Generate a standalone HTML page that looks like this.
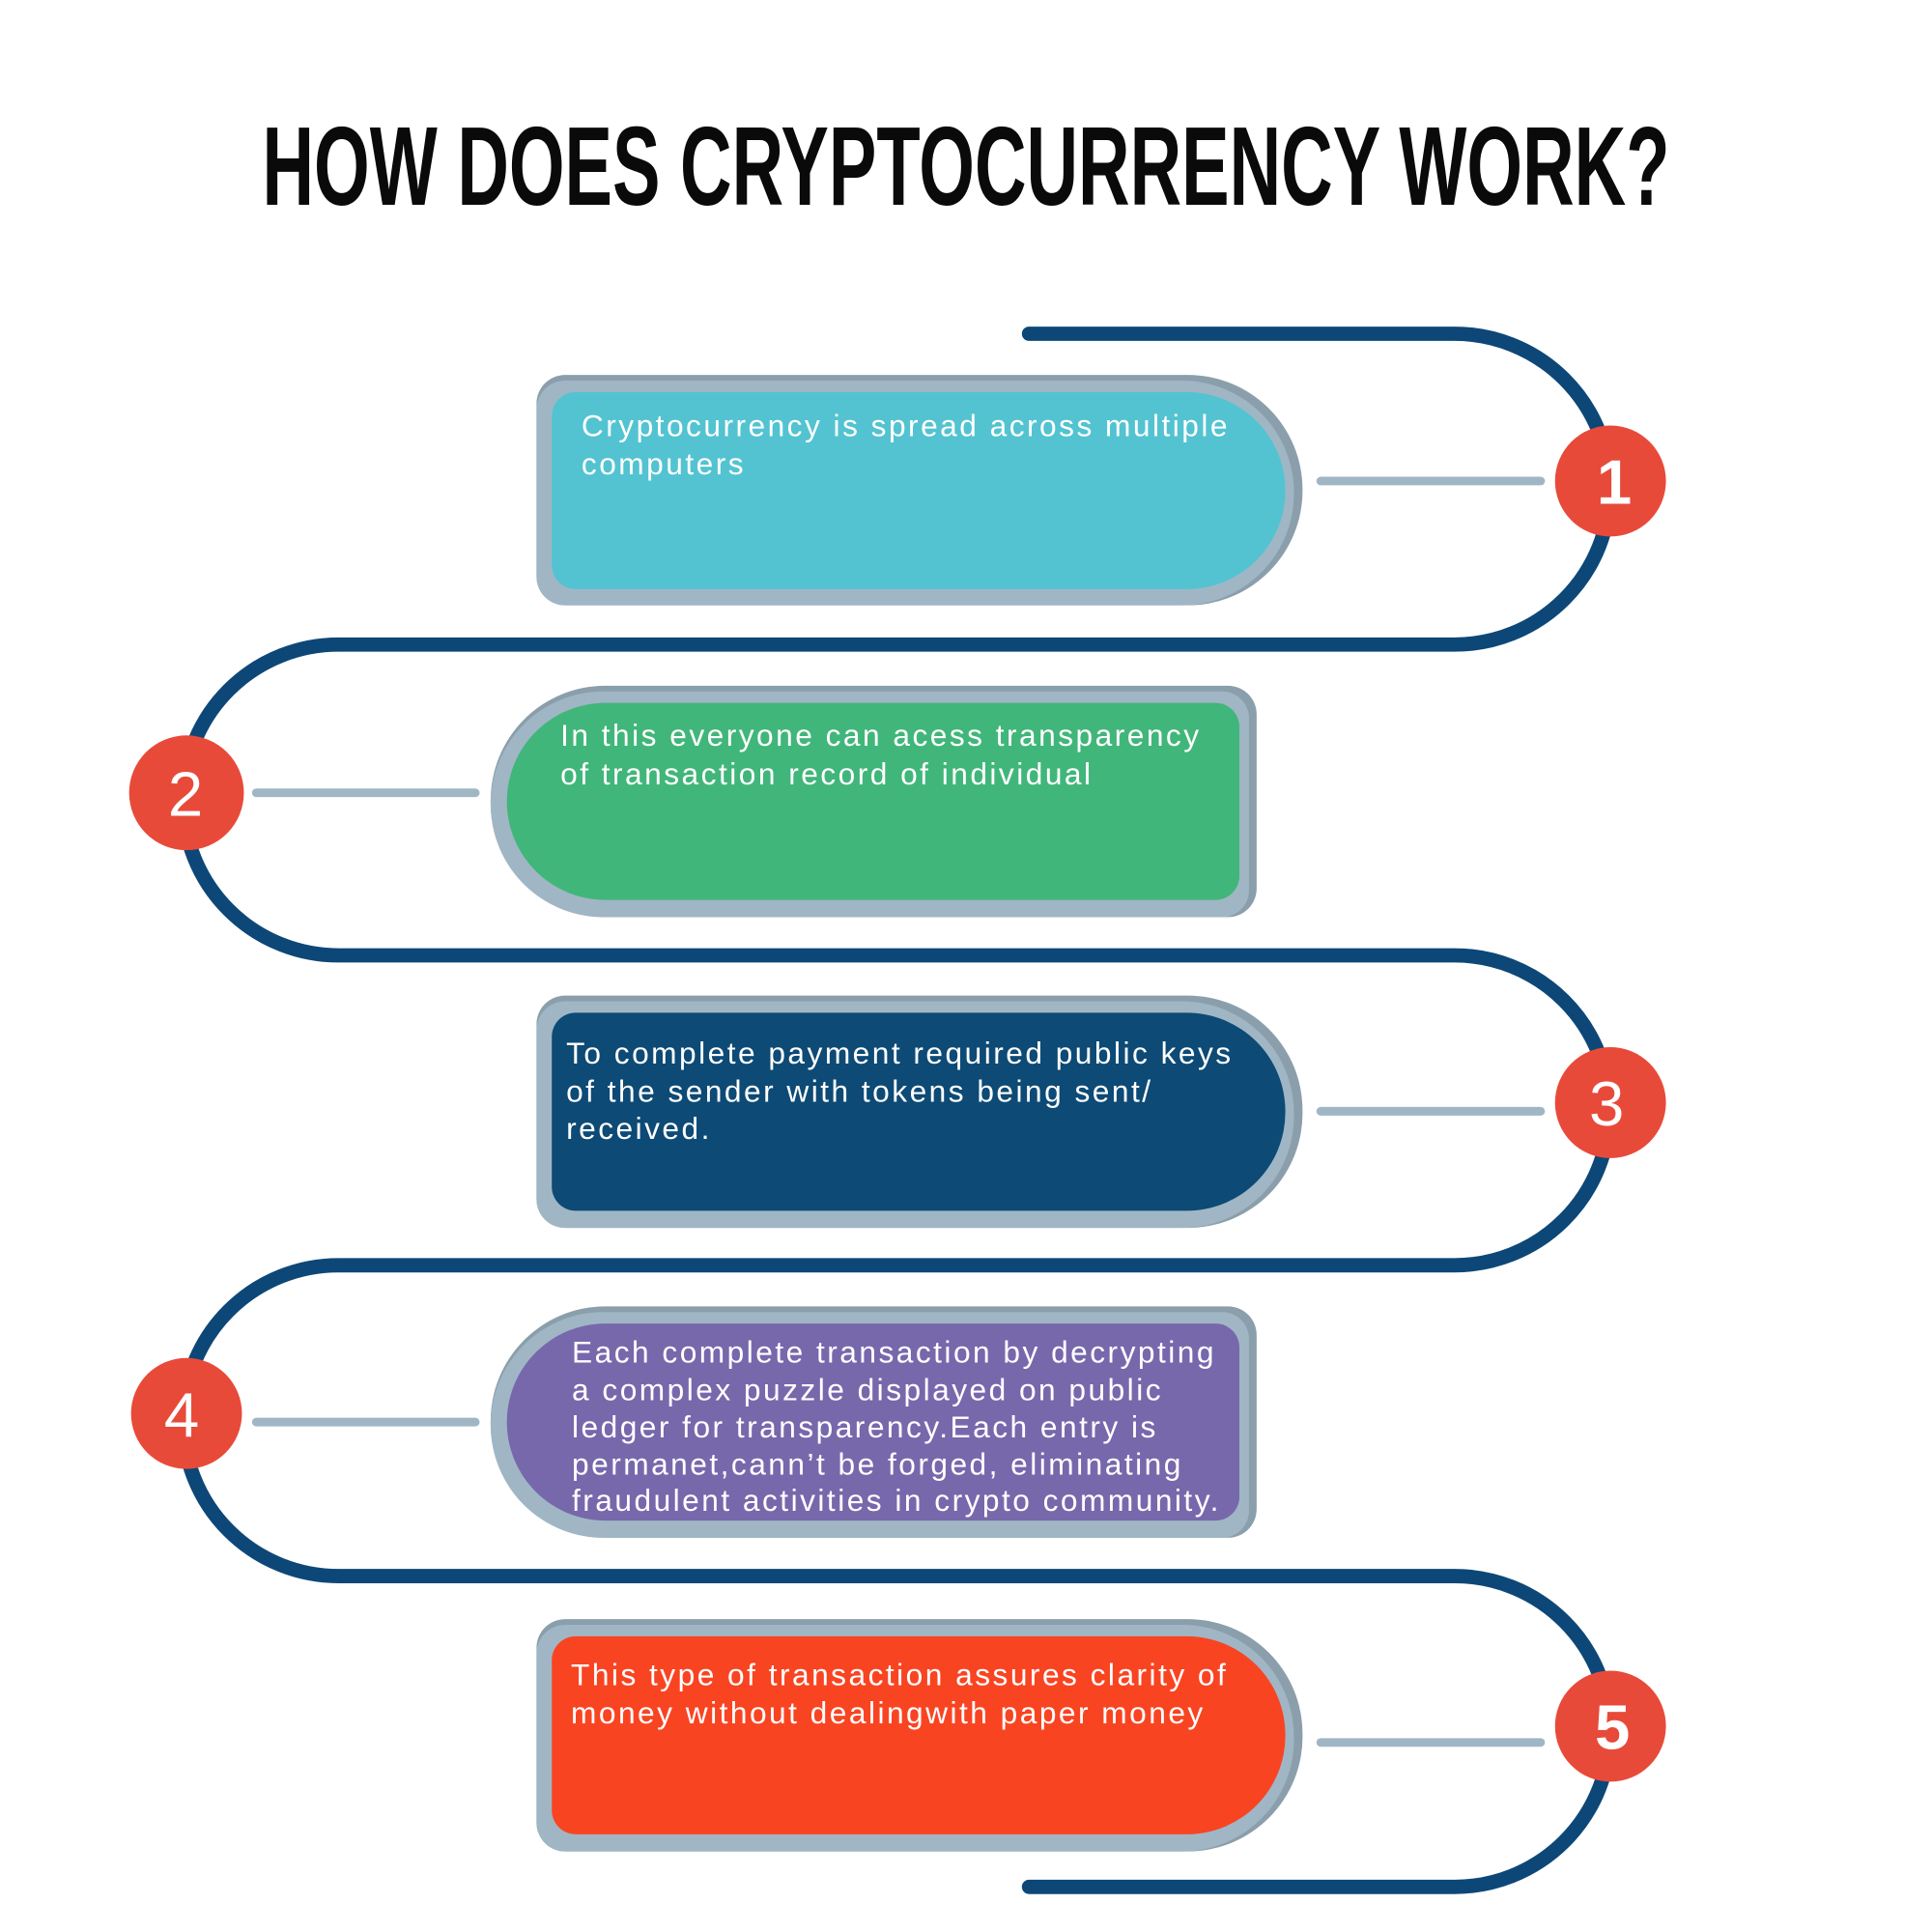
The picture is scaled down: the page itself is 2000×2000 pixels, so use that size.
<!DOCTYPE html>
<html><head><meta charset="utf-8"><style>
html,body{margin:0;padding:0;background:#fff;}
svg{display:block;}
.t{font-family:"Liberation Sans",sans-serif;fill:#fff;font-size:32px;letter-spacing:2.5px;}
.n{font-family:"Liberation Sans",sans-serif;fill:#fff;font-size:66px;text-anchor:middle;}
</style></head><body>
<svg width="2000" height="2000" viewBox="0 0 2000 2000">
<text x="1000" y="212" text-anchor="middle" textLength="1457" lengthAdjust="spacingAndGlyphs" font-family="Liberation Sans, sans-serif" font-weight="bold" font-size="116" fill="#0a0a0a">HOW DOES CRYPTOCURRENCY WORK?</text>
<g transform="scale(0.99)">
<path fill="none" stroke="#0d4777" stroke-width="15" stroke-linecap="round"
 d="M1076,349 H1521 A162,162 0 0 1 1521,674 H354 A162,162 0 0 0 354,999 H1521 A162,162 0 0 1 1521,1323 H354 A162,162 0 0 0 354,1648 H1521 A162,162 0 0 1 1521,1973 H1076"/>
<g stroke="#a0b6c5" stroke-width="9" stroke-linecap="round">
<line x1="1381" y1="503" x2="1611" y2="503"/>
<line x1="268" y1="829" x2="497" y2="829"/>
<line x1="1381" y1="1162" x2="1611" y2="1162"/>
<line x1="268" y1="1487" x2="497" y2="1487"/>
<line x1="1381" y1="1822" x2="1611" y2="1822"/>
</g>
<g>
<path fill="#8a9fab" d="M591,392 H1242 A120,120 0 0 1 1362,512 A120,120 0 0 1 1242,633 H591 A30,30 0 0 1 561,603 V422 A30,30 0 0 1 591,392Z"/>
<path fill="#a0b6c5" d="M591,398 H1236 A117,117 0 0 1 1353,515 A117,117 0 0 1 1236,633 H591 A30,30 0 0 1 561,603 V428 A30,30 0 0 1 591,398Z"/>
<path fill="#53c3d1" d="M602,410 H1241 A103,103 0 0 1 1344,513 A103,103 0 0 1 1241,616 H602 A25,25 0 0 1 577,591 V435 A25,25 0 0 1 602,410Z"/>
<text class="t" x="608" y="456">Cryptocurrency is spread across multiple</text>
<text class="t" x="608" y="496">computers</text>
</g>
<g>
<path fill="#8a9fab" d="M633,717 H1284 A30,30 0 0 1 1314,747 V929 A30,30 0 0 1 1284,959 H633 A120,120 0 0 1 513,838 A120,120 0 0 1 633,717Z"/>
<path fill="#a0b6c5" d="M633,723 H1278 A28,28 0 0 1 1306,751 V931 A28,28 0 0 1 1278,959 H633 A118,118 0 0 1 513,841 A118,118 0 0 1 633,723Z"/>
<path fill="#41b67a" d="M633,735 H1271 A25,25 0 0 1 1296,760 V916 A25,25 0 0 1 1271,941 H633 A103,103 0 0 1 530,838 A103,103 0 0 1 633,735Z"/>
<text class="t" x="586" y="780">In this everyone can acess transparency</text>
<text class="t" x="586" y="820">of transaction record of individual</text>
</g>
<g>
<path fill="#8a9fab" d="M591,1041 H1242 A120,120 0 0 1 1362,1161 A120,120 0 0 1 1242,1284 H591 A30,30 0 0 1 561,1254 V1071 A30,30 0 0 1 591,1041Z"/>
<path fill="#a0b6c5" d="M591,1047 H1236 A117,117 0 0 1 1353,1164 A117,117 0 0 1 1236,1284 H591 A30,30 0 0 1 561,1254 V1077 A30,30 0 0 1 591,1047Z"/>
<path fill="#0d4a75" d="M602,1059 H1241 A103,103 0 0 1 1344,1162 A103,103 0 0 1 1241,1266 H602 A25,25 0 0 1 577,1241 V1084 A25,25 0 0 1 602,1059Z"/>
<text class="t" x="592" y="1112">To complete payment required public keys</text>
<text class="t" x="592" y="1152">of the sender with tokens being sent/</text>
<text class="t" x="592" y="1191">received.</text>
</g>
<g>
<path fill="#8a9fab" d="M633,1366 H1284 A30,30 0 0 1 1314,1396 V1578 A30,30 0 0 1 1284,1608 H633 A120,120 0 0 1 513,1487 A120,120 0 0 1 633,1366Z"/>
<path fill="#a0b6c5" d="M633,1372 H1278 A28,28 0 0 1 1306,1400 V1580 A28,28 0 0 1 1278,1608 H633 A118,118 0 0 1 513,1490 A118,118 0 0 1 633,1372Z"/>
<path fill="#7768ac" d="M633,1384 H1271 A25,25 0 0 1 1296,1409 V1565 A25,25 0 0 1 1271,1590 H633 A103,103 0 0 1 530,1487 A103,103 0 0 1 633,1384Z"/>
<text class="t" x="598" y="1425">Each complete transaction by decrypting</text>
<text class="t" x="598" y="1464">a complex puzzle displayed on public</text>
<text class="t" x="598" y="1503">ledger for transparency.Each entry is</text>
<text class="t" x="598" y="1542">permanet,cann’t be forged, eliminating</text>
<text class="t" x="598" y="1580">fraudulent activities in crypto community.</text>
</g>
<g>
<path fill="#8a9fab" d="M591,1693 H1242 A120,120 0 0 1 1362,1813 A120,120 0 0 1 1242,1936 H591 A30,30 0 0 1 561,1906 V1723 A30,30 0 0 1 591,1693Z"/>
<path fill="#a0b6c5" d="M591,1699 H1236 A117,117 0 0 1 1353,1816 A117,117 0 0 1 1236,1936 H591 A30,30 0 0 1 561,1906 V1729 A30,30 0 0 1 591,1699Z"/>
<path fill="#f94422" d="M602,1711 H1241 A103,103 0 0 1 1344,1814 A103,103 0 0 1 1241,1918 H602 A25,25 0 0 1 577,1893 V1736 A25,25 0 0 1 602,1711Z"/>
<text class="t" x="597" y="1762">This type of transaction assures clarity of</text>
<text class="t" x="597" y="1802">money without dealingwith paper money</text>
</g>
<g>
<circle cx="1684" cy="503" r="58" fill="#e84a3a"/><text class="n" x="1688" y="527" font-weight="bold">1</text>
<circle cx="195" cy="829" r="60" fill="#e84a3a"/><text class="n" x="194" y="853">2</text>
<circle cx="1684" cy="1153" r="58" fill="#e84a3a"/><text class="n" x="1680" y="1177">3</text>
<circle cx="195" cy="1478" r="58" fill="#e84a3a"/><text class="n" x="190" y="1502">4</text>
<circle cx="1684" cy="1805" r="58" fill="#e84a3a"/><text class="n" x="1686" y="1829" font-weight="bold">5</text>
</g>
</g>
</svg>
</body></html>
